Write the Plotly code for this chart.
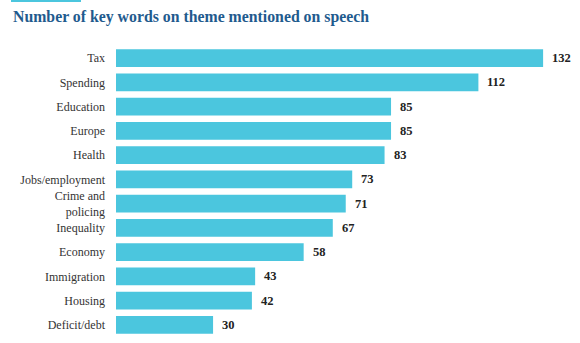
import plotly.graph_objects as go

themes = ["Tax", "Spending", "Education", "Europe", "Health", "Jobs/employment",
          "Crime and<br>policing", "Inequality", "Economy", "Immigration", "Housing",
          "Deficit/debt"]
mentions = [132, 112, 85, 85, 83, 73, 71, 67, 58, 43, 42, 30]

bar_color = "#4bc6de"
title_color = "#1f5b8e"
serif = "Times New Roman, Liberation Serif, DejaVu Serif, serif"

fig = go.Figure(go.Bar(
    x=mentions, y=themes, orientation="h",
    marker=dict(color=bar_color, line=dict(width=0)),
    hoverinfo="skip",
))

# value labels just past each bar end
for t, v in zip(themes, mentions):
    fig.add_annotation(x=v, y=t, text=f"<b>{v}</b>", showarrow=False,
                       xanchor="left", xshift=7,
                       font=dict(family=serif, size=12.5, color="#222222"))

fig.update_layout(
    width=580, height=343,
    margin=dict(l=116, r=11, t=46, b=6),
    paper_bgcolor="white", plot_bgcolor="white",
    bargap=0.26, showlegend=False,
    xaxis=dict(range=[0, 140], visible=False, fixedrange=True),
    yaxis=dict(autorange="reversed", showgrid=False, zeroline=False, showline=False,
               ticks="", ticklabelstandoff=10,
               tickfont=dict(family=serif, size=12, color="#333333")),
    font=dict(family=serif),
)

# header: accent strip and title
fig.add_shape(type="rect", xref="paper", yref="paper",
              x0=-105 / 453, x1=-35 / 453, y0=1 + 44 / 291, y1=1 + 46 / 291,
              fillcolor=bar_color, line=dict(width=0))
fig.add_annotation(xref="paper", yref="paper", x=-105 / 453, y=1 + 28.5 / 291,
                   xanchor="left", yanchor="middle", showarrow=False,
                   text="<b>Number of key words on theme mentioned on speech</b>",
                   font=dict(family=serif, size=15.8, color=title_color))

fig.write_html("out.html")
